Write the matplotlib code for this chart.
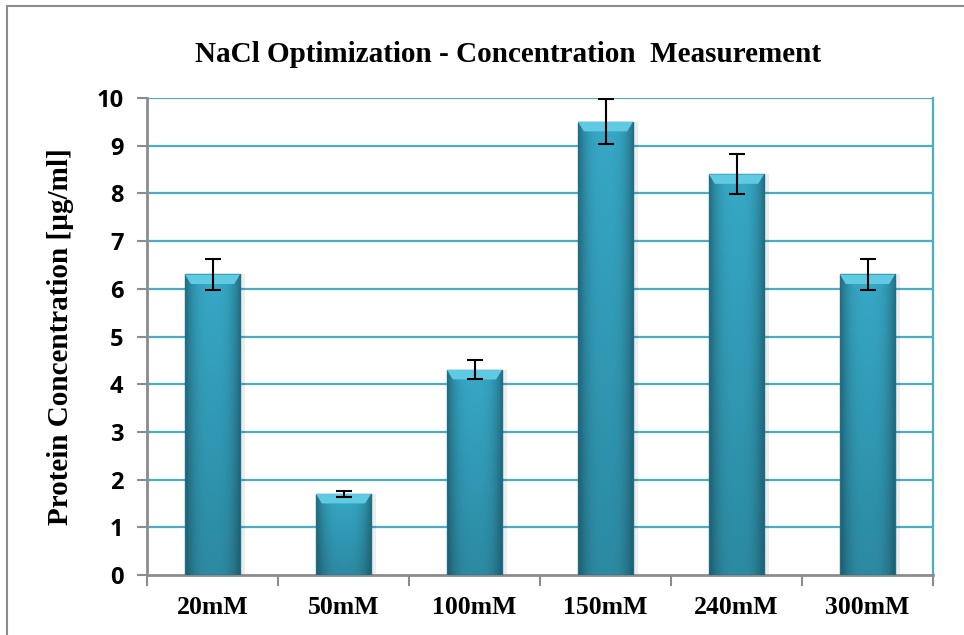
import numpy as np
import matplotlib.pyplot as plt
from matplotlib.patches import Rectangle, Polygon

categories = ["20mM", "50mM", "100mM", "150mM", "240mM", "300mM"]
values = [6.3, 1.7, 4.3, 9.5, 8.4, 6.3]
errors = [0.32, 0.07, 0.2, 0.47, 0.42, 0.32]
yticks = list(range(0, 11))

plt.rcParams['font.family'] = ['Liberation Serif', 'DejaVu Serif']
plt.rcParams['font.weight'] = 'bold'

fig = plt.figure(figsize=(9.64, 6.35), dpi=100)
ax = fig.add_axes([147 / 964, 1 - 575 / 635, (933 - 147) / 964, (575 - 98) / 635])

# outer chart frame (left/top visible, rest cropped off)
fig.patches.append(Rectangle((7 / 964, -0.1), 1.2, 1 - 6 / 635 + 0.1,
                             transform=fig.transFigure, fill=False,
                             edgecolor='#8c8c8c', linewidth=1.5))

x = np.arange(len(categories))
w = 0.42
grid_c = '#4bacc6'
for y in yticks[1:]:
    ax.axhline(y, color=grid_c, linewidth=1.6, zorder=1)

ax.set_xlim(-0.5, len(categories) - 0.5)
ax.set_ylim(0, 10)

# shaded bars: horizontal gradient (dark edges) and vertical darkening
hx = np.linspace(-1, 1, 60)
hprof = 1 - 0.35 * np.abs(hx) ** 3
base = np.array([0x36, 0xa8, 0xc6]) / 255.0
for xi, v in zip(x, values):
    vy = np.linspace(0, 1, 50)[:, None]
    shade = hprof[None, :] * (0.82 + 0.18 * vy)
    img = np.clip(base[None, None, :] * shade[:, :, None], 0, 1)
    ax.bar(xi + 0.035, v, width=w, color='black', alpha=0.07, zorder=2)
    rect = Rectangle((xi - w / 2, 0), w, v, facecolor='none',
                     edgecolor='#216f85', linewidth=1.0, zorder=4)
    ax.add_patch(rect)
    im = ax.imshow(img, extent=(xi - w / 2, xi + w / 2, 0, v), origin='lower',
                   aspect='auto', zorder=3, interpolation='bilinear')
    im.set_clip_path(rect)
    # lighter bevel on top
    bh = 0.2
    ins = 0.045
    ax.add_patch(Polygon([(xi - w / 2, v), (xi + w / 2, v),
                          (xi + w / 2 - ins, v - bh), (xi - w / 2 + ins, v - bh)],
                         closed=True, facecolor='#5fcae2', edgecolor='none', zorder=4))

ax.errorbar(x, values, yerr=errors, fmt='none', ecolor='black',
            elinewidth=1.5, capsize=6, capthick=1.5, zorder=5)

ax.set_xlim(-0.5, len(categories) - 0.5)
ax.set_ylim(0, 10)
ax.set_yticks(yticks)
ax.set_yticklabels([str(t) for t in yticks], family=['Open Sans', 'DejaVu Sans'],
                   fontsize=17, fontweight='bold')
ax.set_xticks(x)
ax.set_xticklabels(categories, fontsize=18.5, fontweight='bold')
ax.set_xticks(np.arange(-0.5, len(categories), 1.0), minor=True)
ax.tick_params(axis='x', which='major', length=0, pad=15)
ax.tick_params(axis='x', which='minor', length=8, width=1.5, color='#8c8c8c')
ax.tick_params(axis='y', length=7, width=1.5, color='#8c8c8c', pad=10)

ax.spines['top'].set_visible(False)
ax.spines['right'].set_color(grid_c)
ax.spines['right'].set_linewidth(1.6)
ax.spines['left'].set_color('#8c8c8c')
ax.spines['left'].set_linewidth(2)
ax.spines['bottom'].set_color('#8c8c8c')
ax.spines['bottom'].set_linewidth(2)

ax.set_ylabel("Protein Concentration [µg/ml]", fontsize=21, fontweight='bold', labelpad=16)
fig.text(508 / 964, 1 - 54 / 635, "NaCl Optimization - Concentration  Measurement",
         ha='center', va='center', fontsize=21, fontweight='bold')

fig.savefig("out.png", dpi=100)
